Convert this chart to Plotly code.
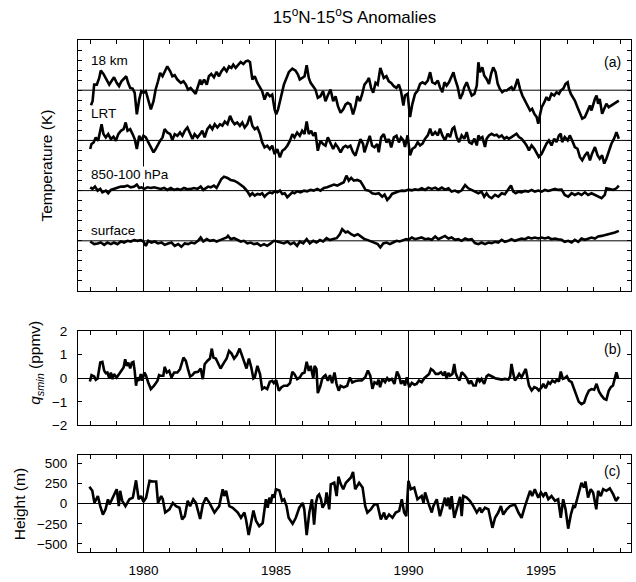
import plotly.graph_objects as go

# ---------------- data ----------------
# each series: (decimal year, anomaly)
t18km = [(1978.02,-1.49),(1978.08,-1.09),(1978.14,0.56),(1978.24,0.56),(1978.33,1.22),(1978.39,1.95),(1978.49,1.62),(1978.58,1.22),(1978.71,0.56),(1978.79,0.89),(1978.89,1.29),(1978.99,0.73),(1979.08,0.40),(1979.17,0.89),(1979.27,1.22),(1979.35,1.39),(1979.42,0.73),(1979.50,0.23),(1979.59,0.17),(1979.67,-0.26),(1979.75,-2.41),(1979.84,-0.93),(1979.92,-0.10),(1980.00,-0.26),(1980.09,-0.10),(1980.18,-1.09),(1980.28,-1.91),(1980.38,-1.09),(1980.46,0.07),(1980.55,0.89),(1980.63,1.72),(1980.72,1.39),(1980.80,1.88),(1980.90,2.38),(1981.01,1.88),(1981.09,1.39),(1981.18,1.49),(1981.28,1.06),(1981.41,0.73),(1981.51,0.89),(1981.60,0.56),(1981.68,0.07),(1981.78,0.23),(1981.88,-0.10),(1981.97,-0.36),(1982.06,0.40),(1982.14,1.06),(1982.19,0.56),(1982.29,1.06),(1982.39,0.56),(1982.47,1.39),(1982.56,1.62),(1982.66,1.29),(1982.76,1.82),(1982.85,1.39),(1982.94,1.88),(1983.04,2.22),(1983.14,1.88),(1983.23,2.38),(1983.32,2.22),(1983.39,2.55),(1983.48,2.22),(1983.57,2.48),(1983.67,2.81),(1983.77,2.61),(1983.86,2.88),(1983.94,2.94),(1984.02,2.81),(1984.11,1.06),(1984.20,1.39),(1984.30,0.73),(1984.40,0.23),(1984.48,-0.10),(1984.57,-0.93),(1984.67,-0.26),(1984.77,-0.60),(1984.86,-0.43),(1984.95,-1.91),(1985.01,-2.41),(1985.08,-1.91),(1985.15,-1.09),(1985.24,0.07),(1985.30,0.56),(1985.40,1.22),(1985.49,1.82),(1985.62,2.15),(1985.74,1.95),(1985.83,1.55),(1985.90,1.06),(1985.99,1.22),(1986.08,1.39),(1986.16,2.48),(1986.24,1.22),(1986.31,0.73),(1986.41,0.40),(1986.49,0.07),(1986.58,-0.76),(1986.68,-0.60),(1986.78,-0.10),(1986.87,-1.09),(1986.96,-0.50),(1987.06,0.07),(1987.16,-1.09),(1987.25,-0.60),(1987.34,-1.59),(1987.44,-2.25),(1987.54,-1.91),(1987.63,-1.42),(1987.71,-1.26),(1987.81,-1.42),(1987.91,-2.41),(1988.00,-1.59),(1988.07,-0.60),(1988.17,-1.09),(1988.25,-0.43),(1988.34,0.56),(1988.44,0.89),(1988.51,1.22),(1988.59,0.23),(1988.67,-0.26),(1988.76,0.73),(1988.84,0.56),(1988.94,2.22),(1989.01,1.55),(1989.07,1.22),(1989.17,1.39),(1989.26,0.89),(1989.35,0.73),(1989.45,0.40),(1989.55,0.23),(1989.64,0.56),(1989.72,-0.10),(1989.81,-1.52),(1989.87,-0.53),(1989.97,-0.36),(1990.06,-2.68),(1990.15,-1.36),(1990.25,-0.36),(1990.35,-0.03),(1990.44,0.63),(1990.53,0.79),(1990.63,0.63),(1990.73,0.96),(1990.82,1.79),(1990.90,0.79),(1991.01,0.63),(1991.11,0.96),(1991.19,0.30),(1991.28,-0.20),(1991.36,0.79),(1991.44,0.46),(1991.53,0.79),(1991.63,1.29),(1991.70,1.79),(1991.76,1.12),(1991.86,0.30),(1991.95,-0.86),(1992.04,-0.36),(1992.11,0.30),(1992.20,0.79),(1992.29,0.13),(1992.39,-0.53),(1992.49,-0.36),(1992.58,0.46),(1992.64,2.78),(1992.70,1.79),(1992.79,2.28),(1992.86,1.46),(1992.95,1.12),(1993.04,0.63),(1993.12,1.62),(1993.20,2.28),(1993.29,1.79),(1993.37,0.63),(1993.45,0.13),(1993.54,-0.20),(1993.62,-0.03),(1993.71,-0.03),(1993.79,0.13),(1993.89,0.30),(1993.96,-0.03),(1994.02,0.30),(1994.12,1.12),(1994.21,0.13),(1994.30,-0.53),(1994.40,-1.03),(1994.50,-1.69),(1994.59,-2.02),(1994.67,-1.85),(1994.75,-2.35),(1994.84,-2.68),(1994.90,-3.34),(1994.96,-2.51),(1995.03,-1.69),(1995.13,-1.19),(1995.21,-0.69),(1995.30,-1.03),(1995.40,-0.36),(1995.50,-0.53),(1995.59,-0.20),(1995.68,-0.36),(1995.75,-0.03),(1995.84,0.13),(1995.93,0.63),(1996.01,0.79),(1996.06,0.13),(1996.13,-0.36),(1996.22,-0.69),(1996.28,-1.03),(1996.38,-1.69),(1996.47,-2.35),(1996.56,-2.84),(1996.66,-2.68),(1996.76,-2.02),(1996.85,-1.52),(1996.91,-2.02),(1996.97,-1.36),(1997.04,-0.86),(1997.10,-0.53),(1997.16,-1.36),(1997.22,-0.86),(1997.31,-2.35),(1997.39,-1.85),(1997.47,-1.36),(1997.56,-1.69),(1997.66,-1.52),(1997.76,-1.36),(1997.85,-1.19),(1997.94,-1.03)]

lrt = [(1977.99,-0.86),(1978.04,-0.36),(1978.12,-0.20),(1978.20,0.30),(1978.29,-0.03),(1978.37,0.96),(1978.42,1.62),(1978.49,0.63),(1978.58,0.30),(1978.67,0.63),(1978.77,0.13),(1978.87,0.36),(1978.96,-0.03),(1979.05,0.63),(1979.15,0.96),(1979.25,1.12),(1979.33,1.79),(1979.40,0.96),(1979.50,1.12),(1979.59,0.63),(1979.67,0.13),(1979.75,-0.86),(1979.84,0.46),(1979.92,-0.03),(1980.00,0.46),(1980.09,0.30),(1980.18,-0.20),(1980.28,-0.69),(1980.38,-1.19),(1980.46,-0.86),(1980.55,-0.36),(1980.63,-0.03),(1980.72,0.30),(1980.80,1.12),(1980.90,0.79),(1981.01,0.63),(1981.09,0.03),(1981.18,0.63),(1981.28,0.46),(1981.38,0.79),(1981.47,0.46),(1981.56,0.96),(1981.66,1.29),(1981.76,0.63),(1981.85,0.13),(1981.93,0.63),(1982.04,0.30),(1982.14,0.63),(1982.22,0.96),(1982.31,0.30),(1982.41,1.12),(1982.51,1.46),(1982.60,1.12),(1982.69,1.62),(1982.79,1.29),(1982.89,1.62),(1982.98,1.46),(1983.07,1.88),(1983.17,1.62),(1983.27,2.45),(1983.35,1.95),(1983.44,1.62),(1983.54,1.79),(1983.64,1.46),(1983.73,1.79),(1983.82,1.29),(1983.92,1.62),(1984.02,2.45),(1984.11,1.46),(1984.20,1.12),(1984.30,1.29),(1984.40,0.63),(1984.48,-0.20),(1984.57,-0.69),(1984.67,-0.53),(1984.77,-0.86),(1984.86,-0.53),(1984.95,-1.36),(1985.05,-0.86),(1985.15,-1.69),(1985.24,-1.03),(1985.33,-0.86),(1985.43,-0.53),(1985.53,-0.03),(1985.62,0.63),(1985.70,0.30),(1985.80,0.79),(1985.90,0.46),(1985.99,0.96),(1986.08,0.63),(1986.16,1.88),(1986.24,0.63),(1986.33,0.96),(1986.41,0.46),(1986.49,0.79),(1986.58,-1.03),(1986.68,-0.03),(1986.78,-0.36),(1986.87,-0.53),(1986.96,0.30),(1987.06,-0.20),(1987.16,-0.86),(1987.25,-0.36),(1987.34,-0.69),(1987.44,-1.19),(1987.54,-0.69),(1987.63,-0.53),(1987.71,-0.69),(1987.81,-0.53),(1987.91,-1.19),(1988.00,-1.52),(1988.09,-0.69),(1988.19,0.13),(1988.29,-0.36),(1988.34,-1.19),(1988.44,-0.36),(1988.54,0.46),(1988.63,-0.53),(1988.72,-0.69),(1988.82,-0.36),(1988.88,-1.19),(1988.97,0.30),(1989.07,0.63),(1989.17,-0.20),(1989.26,0.13),(1989.35,-0.69),(1989.45,0.30),(1989.55,0.46),(1989.64,-0.20),(1989.72,0.30),(1989.81,0.0),(1989.87,-0.66),(1989.97,0.50),(1990.06,-1.49),(1990.15,-0.83),(1990.25,-0.66),(1990.35,-0.17),(1990.44,-0.50),(1990.53,-0.33),(1990.63,0.17),(1990.73,0.50),(1990.82,1.16),(1990.90,0.50),(1991.01,0.83),(1991.11,0.50),(1991.19,1.16),(1991.28,0.50),(1991.38,0.0),(1991.48,0.66),(1991.57,0.33),(1991.66,1.16),(1991.73,1.32),(1991.82,0.33),(1991.91,-0.17),(1992.01,0.50),(1992.11,0.17),(1992.20,0.83),(1992.29,-0.17),(1992.39,-0.33),(1992.49,0.17),(1992.58,-0.50),(1992.64,0.50),(1992.70,0.17),(1992.79,0.33),(1992.89,-0.66),(1992.95,0.17),(1993.04,0.50),(1993.14,0.66),(1993.24,0.50),(1993.33,0.56),(1993.42,0.33),(1993.52,0.50),(1993.62,0.17),(1993.71,0.33),(1993.79,0.17),(1993.89,0.33),(1993.99,0.50),(1994.08,0.66),(1994.17,0.33),(1994.27,0.17),(1994.37,-0.17),(1994.46,-0.50),(1994.55,-0.99),(1994.65,-0.50),(1994.75,-0.83),(1994.84,-1.32),(1994.92,-1.65),(1995.03,-1.32),(1995.13,-0.66),(1995.21,-0.33),(1995.30,0.0),(1995.40,-0.50),(1995.50,0.17),(1995.59,-0.17),(1995.68,0.50),(1995.75,0.66),(1995.80,-0.17),(1995.90,0.33),(1996.01,0.0),(1996.09,0.50),(1996.18,0.0),(1996.28,-0.66),(1996.38,-0.83),(1996.47,-1.65),(1996.56,-1.98),(1996.66,-1.49),(1996.76,-1.16),(1996.85,-1.98),(1996.93,-1.32),(1997.04,-0.66),(1997.14,-1.49),(1997.22,-1.82),(1997.31,-1.49),(1997.39,-2.31),(1997.47,-1.82),(1997.56,-1.16),(1997.66,-0.33),(1997.76,0.17),(1997.85,0.83),(1997.94,0.17)]

t850_100 = [(1977.99,0.33),(1978.08,0.17),(1978.17,0.40),(1978.27,0.0),(1978.37,0.17),(1978.45,-0.17),(1978.58,0.0),(1978.67,-0.26),(1978.77,0.07),(1978.89,0.17),(1979.02,0.26),(1979.15,0.40),(1979.27,0.40),(1979.40,0.50),(1979.52,0.33),(1979.65,0.40),(1979.75,0.60),(1979.84,0.26),(1979.92,0.33),(1980.03,0.17),(1980.15,0.33),(1980.28,0.26),(1980.40,0.33),(1980.53,0.26),(1980.65,0.17),(1980.78,0.26),(1980.90,0.07),(1981.03,0.26),(1981.16,0.07),(1981.28,0.17),(1981.41,0.07),(1981.53,0.26),(1981.66,0.13),(1981.78,0.17),(1981.91,0.26),(1982.04,0.17),(1982.16,0.40),(1982.26,0.07),(1982.35,0.26),(1982.44,0.40),(1982.54,0.33),(1982.66,0.50),(1982.76,0.26),(1982.85,0.66),(1982.94,1.16),(1983.04,1.39),(1983.17,1.26),(1983.29,1.06),(1983.42,0.99),(1983.54,0.83),(1983.67,0.60),(1983.79,0.33),(1983.92,-0.07),(1984.02,-0.50),(1984.11,-0.26),(1984.20,-0.50),(1984.30,-0.33),(1984.40,-0.40),(1984.48,-0.26),(1984.57,-0.60),(1984.67,-0.33),(1984.77,-0.17),(1984.86,-0.26),(1984.95,-0.07),(1985.05,-0.17),(1985.15,0.0),(1985.24,-0.33),(1985.33,-0.26),(1985.43,-0.66),(1985.53,-0.40),(1985.62,-0.17),(1985.70,-0.26),(1985.80,-0.07),(1985.93,-0.17),(1986.06,0.0),(1986.18,-0.07),(1986.31,0.07),(1986.43,0.0),(1986.56,0.17),(1986.68,0.0),(1986.81,0.26),(1986.93,0.33),(1987.06,0.50),(1987.19,0.60),(1987.31,0.50),(1987.44,0.66),(1987.56,0.83),(1987.66,1.49),(1987.75,0.99),(1987.84,1.26),(1987.94,0.99),(1988.07,1.06),(1988.19,0.93),(1988.29,0.50),(1988.38,0.07),(1988.51,0.0),(1988.63,-0.26),(1988.76,-0.33),(1988.88,-0.26),(1989.01,-0.60),(1989.10,-0.40),(1989.20,-0.93),(1989.30,-0.66),(1989.38,-0.33),(1989.51,-0.17),(1989.64,-0.07),(1989.76,0.0),(1989.87,-0.03),(1990.00,0.10),(1990.13,0.03),(1990.25,0.13),(1990.38,0.07),(1990.50,0.23),(1990.63,0.07),(1990.75,0.30),(1990.88,0.17),(1991.01,0.30),(1991.13,0.10),(1991.26,0.30),(1991.38,0.10),(1991.51,0.23),(1991.63,-0.10),(1991.76,0.0),(1991.88,-0.17),(1992.01,0.03),(1992.14,0.56),(1992.26,0.23),(1992.39,0.07),(1992.51,-0.10),(1992.64,-0.26),(1992.76,-0.10),(1992.86,-0.60),(1992.95,-0.26),(1993.04,-0.60),(1993.14,-0.76),(1993.27,-0.43),(1993.39,-0.60),(1993.52,-0.26),(1993.64,-0.36),(1993.77,0.07),(1993.87,0.50),(1993.96,-0.10),(1994.05,-0.26),(1994.15,-0.10),(1994.27,-0.17),(1994.40,-0.03),(1994.52,-0.10),(1994.65,0.07),(1994.77,-0.10),(1994.90,0.0),(1995.03,-0.10),(1995.15,0.07),(1995.28,-0.03),(1995.40,0.07),(1995.53,0.17),(1995.65,0.07),(1995.78,0.10),(1995.90,-0.43),(1996.03,-0.60),(1996.16,-0.26),(1996.28,-0.43),(1996.41,-0.26),(1996.53,-0.43),(1996.66,-0.17),(1996.78,-0.43),(1996.91,-0.26),(1997.04,-0.43),(1997.16,-0.60),(1997.29,-0.76),(1997.41,-0.43),(1997.47,0.23),(1997.60,0.17),(1997.73,0.07),(1997.85,0.23),(1997.94,0.50)]

surface = [(1977.99,-0.07),(1978.14,-0.33),(1978.27,-0.26),(1978.39,-0.17),(1978.52,-0.40),(1978.64,-0.17),(1978.77,-0.33),(1978.89,-0.17),(1979.02,-0.33),(1979.15,-0.07),(1979.27,-0.17),(1979.40,0.0),(1979.52,-0.07),(1979.65,0.07),(1979.77,0.0),(1979.90,0.07),(1980.00,-0.07),(1980.09,-0.50),(1980.18,0.0),(1980.30,-0.17),(1980.43,-0.07),(1980.55,-0.26),(1980.68,-0.17),(1980.80,-0.40),(1980.93,-0.26),(1981.06,-0.17),(1981.18,-0.50),(1981.31,-0.33),(1981.43,-0.60),(1981.56,-0.26),(1981.68,-0.33),(1981.81,-0.17),(1981.93,-0.26),(1982.06,0.0),(1982.16,0.33),(1982.26,-0.07),(1982.39,0.17),(1982.51,0.0),(1982.64,0.07),(1982.76,-0.07),(1982.89,0.07),(1983.02,0.17),(1983.14,0.33),(1983.19,0.50),(1983.29,0.17),(1983.42,0.26),(1983.54,0.07),(1983.67,-0.07),(1983.79,0.0),(1983.92,-0.26),(1984.05,-0.17),(1984.17,-0.33),(1984.30,-0.26),(1984.42,-0.50),(1984.55,-0.33),(1984.67,-0.50),(1984.80,-0.26),(1984.92,0.0),(1985.05,-0.07),(1985.18,-0.17),(1985.30,-0.26),(1985.43,-0.07),(1985.55,-0.33),(1985.68,-0.17),(1985.80,-0.50),(1985.90,-0.07),(1986.03,-0.26),(1986.16,0.17),(1986.28,-0.26),(1986.41,0.0),(1986.53,-0.17),(1986.66,0.07),(1986.78,-0.07),(1986.91,0.26),(1987.04,0.07),(1987.16,0.17),(1987.29,0.26),(1987.41,0.66),(1987.50,1.16),(1987.63,0.83),(1987.71,0.93),(1987.84,0.66),(1987.96,0.50),(1988.09,0.66),(1988.21,0.40),(1988.34,0.17),(1988.47,0.07),(1988.59,-0.07),(1988.72,-0.17),(1988.84,-0.33),(1988.94,-0.66),(1989.05,-0.26),(1989.17,-0.17),(1989.30,-0.33),(1989.42,-0.17),(1989.55,0.0),(1989.67,-0.07),(1989.80,0.07),(1989.92,0.17),(1990.00,0.10),(1990.13,0.33),(1990.25,0.16),(1990.38,0.23),(1990.50,0.33),(1990.63,0.16),(1990.75,0.23),(1990.88,0.10),(1991.01,0.43),(1991.13,0.16),(1991.26,0.33),(1991.38,0.49),(1991.51,0.23),(1991.63,0.33),(1991.76,0.10),(1991.88,0.16),(1992.01,0.0),(1992.14,0.23),(1992.26,0.10),(1992.39,0.16),(1992.51,-0.23),(1992.64,-0.33),(1992.76,-0.17),(1992.89,-0.33),(1993.02,-0.17),(1993.14,-0.23),(1993.27,-0.10),(1993.39,-0.17),(1993.52,0.10),(1993.64,-0.10),(1993.77,0.0),(1993.89,0.16),(1994.02,0.0),(1994.15,0.10),(1994.27,0.23),(1994.40,0.16),(1994.52,0.33),(1994.65,0.23),(1994.77,0.33),(1994.90,0.23),(1995.03,0.33),(1995.15,0.23),(1995.28,0.33),(1995.40,0.16),(1995.53,0.23),(1995.65,0.16),(1995.78,0.10),(1995.90,-0.10),(1996.03,0.0),(1996.16,-0.17),(1996.28,0.10),(1996.41,-0.10),(1996.53,0.23),(1996.66,0.10),(1996.78,0.23),(1996.91,0.33),(1997.04,0.23),(1997.16,0.43),(1997.29,0.49),(1997.41,0.56),(1997.54,0.66),(1997.66,0.76),(1997.79,0.83),(1997.94,0.99)]

qsmin = [(1977.98,-0.14),(1978.04,0.13),(1978.14,0.07),(1978.20,-0.07),(1978.27,-0.01),(1978.37,0.66),(1978.45,0.69),(1978.52,0.31),(1978.58,0.21),(1978.64,0.24),(1978.71,-0.01),(1978.77,0.24),(1978.83,-0.04),(1978.89,0.17),(1978.99,0.03),(1979.08,0.17),(1979.15,0.27),(1979.25,0.45),(1979.31,0.80),(1979.37,0.52),(1979.43,0.66),(1979.50,0.41),(1979.56,0.66),(1979.62,0.69),(1979.67,0.31),(1979.72,-0.32),(1979.77,0.03),(1979.84,-0.11),(1979.90,0.17),(1979.96,-0.11),(1980.03,0.24),(1980.09,0.13),(1980.18,-0.18),(1980.28,-0.46),(1980.40,-0.32),(1980.53,-0.11),(1980.59,0.13),(1980.65,0.10),(1980.75,0.10),(1980.80,0.48),(1980.88,0.24),(1980.97,0.31),(1981.06,0.03),(1981.16,0.24),(1981.28,0.24),(1981.38,0.38),(1981.51,0.87),(1981.60,0.73),(1981.68,0.38),(1981.76,0.07),(1981.85,0.13),(1981.93,0.24),(1982.06,0.27),(1982.16,0.41),(1982.24,-0.04),(1982.31,0.59),(1982.41,0.73),(1982.51,0.83),(1982.58,1.25),(1982.64,0.87),(1982.73,0.83),(1982.81,0.66),(1982.91,0.41),(1983.04,0.66),(1983.14,0.83),(1983.23,1.15),(1983.32,1.05),(1983.42,0.83),(1983.52,0.97),(1983.63,1.25),(1983.69,1.08),(1983.79,0.73),(1983.89,0.41),(1983.98,0.83),(1984.07,0.45),(1984.15,-0.01),(1984.20,0.03),(1984.30,0.52),(1984.40,0.17),(1984.48,-0.46),(1984.57,-0.39),(1984.67,-0.46),(1984.77,-0.15),(1984.86,-0.11),(1984.92,-0.21),(1985.01,-0.08),(1985.11,-0.53),(1985.20,-0.39),(1985.30,-0.32),(1985.43,-0.32),(1985.53,-0.21),(1985.62,0.27),(1985.70,0.17),(1985.80,-0.04),(1985.90,0.03),(1985.99,0.20),(1986.08,0.24),(1986.16,0.69),(1986.24,0.31),(1986.31,0.52),(1986.41,-0.01),(1986.46,0.52),(1986.53,0.38),(1986.58,-0.63),(1986.68,-0.32),(1986.75,-0.01),(1986.81,0.07),(1986.87,0.13),(1986.96,-0.11),(1987.04,0.13),(1987.12,-0.21),(1987.21,0.24),(1987.29,-0.25),(1987.37,-0.53),(1987.44,-0.32),(1987.56,-0.39),(1987.69,-0.32),(1987.79,0.03),(1987.88,-0.18),(1988.00,-0.12),(1988.12,-0.10),(1988.24,-0.10),(1988.37,0.04),(1988.47,0.32),(1988.56,0.11),(1988.64,-0.45),(1988.72,-0.17),(1988.81,-0.24),(1988.87,-0.06),(1988.93,-0.38),(1989.02,-0.03),(1989.12,-0.17),(1989.20,0.0),(1989.27,-0.10),(1989.37,-0.03),(1989.47,-0.24),(1989.57,0.28),(1989.65,0.08),(1989.72,-0.24),(1989.81,-0.10),(1989.87,-0.31),(1989.94,0.04),(1990.03,-0.38),(1990.13,-0.20),(1990.23,-0.28),(1990.31,-0.24),(1990.40,-0.10),(1990.50,-0.17),(1990.60,0.0),(1990.69,0.11),(1990.78,0.18),(1990.85,0.39),(1990.94,0.32),(1991.03,0.18),(1991.13,0.18),(1991.23,0.25),(1991.32,0.11),(1991.38,0.28),(1991.44,-0.03),(1991.51,0.22),(1991.57,0.11),(1991.66,0.18),(1991.73,0.60),(1991.78,0.22),(1991.86,0.0),(1991.93,-0.10),(1992.01,0.25),(1992.11,0.14),(1992.20,0.0),(1992.29,-0.24),(1992.36,-0.10),(1992.45,-0.31),(1992.54,-0.31),(1992.61,0.0),(1992.69,-0.14),(1992.76,-0.03),(1992.86,-0.24),(1992.95,0.08),(1993.02,0.14),(1993.14,0.08),(1993.27,0.0),(1993.39,-0.03),(1993.52,-0.06),(1993.64,-0.03),(1993.77,-0.06),(1993.84,0.08),(1993.89,0.60),(1993.96,0.18),(1994.02,-0.10),(1994.11,0.04),(1994.18,0.18),(1994.27,0.04),(1994.36,0.25),(1994.43,0.39),(1994.50,-0.03),(1994.55,-0.31),(1994.65,-0.52),(1994.75,-0.38),(1994.84,-0.42),(1994.92,-0.52),(1995.03,-0.38),(1995.09,-0.24),(1995.18,-0.42),(1995.28,-0.17),(1995.35,-0.24),(1995.43,-0.10),(1995.53,-0.17),(1995.60,-0.06),(1995.68,-0.14),(1995.75,0.28),(1995.83,-0.03),(1995.90,0.0),(1995.98,0.08),(1996.06,-0.10),(1996.16,-0.17),(1996.26,-0.45),(1996.34,-0.67),(1996.43,-1.0),(1996.53,-1.1),(1996.63,-1.03),(1996.72,-0.74),(1996.81,-0.53),(1996.91,-0.46),(1997.01,-0.49),(1997.10,-0.24),(1997.19,-0.56),(1997.29,-0.74),(1997.39,-0.88),(1997.47,-0.91),(1997.56,-0.53),(1997.64,-0.38),(1997.72,-0.31),(1997.79,0.0),(1997.85,0.25),(1997.91,0.0)]

height = [(1977.96,210),(1978.07,160),(1978.15,10),(1978.28,95),(1978.37,-30),(1978.47,-135),(1978.57,-70),(1978.66,55),(1978.72,-10),(1978.84,75),(1978.91,125),(1978.99,180),(1979.07,-30),(1979.12,160),(1979.20,35),(1979.32,-30),(1979.47,55),(1979.60,75),(1979.72,290),(1979.82,55),(1979.91,95),(1980.00,25),(1980.10,75),(1980.23,285),(1980.35,275),(1980.48,275),(1980.55,10),(1980.67,95),(1980.73,55),(1980.82,-110),(1980.98,-70),(1981.11,10),(1981.23,-30),(1981.36,-50),(1981.46,-195),(1981.56,-155),(1981.67,35),(1981.76,-30),(1981.88,55),(1981.98,10),(1982.14,-190),(1982.24,-10),(1982.36,75),(1982.49,10),(1982.68,-110),(1982.86,-30),(1982.99,180),(1983.05,95),(1983.12,160),(1983.24,-30),(1983.37,-50),(1983.56,-110),(1983.68,-175),(1983.81,-110),(1983.87,-195),(1983.97,-390),(1984.06,-240),(1984.15,-85),(1984.25,-215),(1984.37,-280),(1984.50,-240),(1984.56,-70),(1984.62,55),(1984.69,-50),(1984.75,75),(1984.81,10),(1984.87,115),(1984.94,75),(1985.00,180),(1985.13,165),(1985.23,35),(1985.31,55),(1985.40,-30),(1985.48,-175),(1985.63,-250),(1985.75,-175),(1985.88,-50),(1986.01,10),(1986.07,-70),(1986.16,-390),(1986.26,-110),(1986.36,55),(1986.44,-260),(1986.51,10),(1986.57,95),(1986.63,115),(1986.70,55),(1986.76,-50),(1986.86,10),(1986.91,140),(1987.01,-70),(1987.07,240),(1987.20,260),(1987.29,95),(1987.36,335),(1987.45,240),(1987.54,180),(1987.64,260),(1987.76,305),(1987.83,325),(1987.91,395),(1987.99,180),(1988.14,260),(1988.27,200),(1988.37,-30),(1988.45,-110),(1988.58,-70),(1988.71,-10),(1988.83,-10),(1988.96,-195),(1989.08,-110),(1989.15,-195),(1989.27,-135),(1989.40,-175),(1989.52,-110),(1989.65,-90),(1989.75,55),(1989.84,-110),(1989.92,-155),(1990.00,285),(1990.09,180),(1990.22,200),(1990.34,55),(1990.50,95),(1990.57,10),(1990.63,140),(1990.75,10),(1990.88,-110),(1990.94,-30),(1991.07,55),(1991.19,-155),(1991.32,-10),(1991.38,75),(1991.44,-30),(1991.51,75),(1991.57,-70),(1991.63,95),(1991.73,-175),(1991.82,-70),(1991.88,-30),(1991.95,85),(1992.01,-155),(1992.07,95),(1992.20,75),(1992.32,35),(1992.45,-30),(1992.58,-110),(1992.70,-50),(1992.76,-110),(1992.89,-50),(1993.02,-70),(1993.17,-300),(1993.27,-175),(1993.39,-110),(1993.49,-30),(1993.58,-135),(1993.71,-70),(1993.83,-30),(1994.02,-10),(1994.15,-110),(1994.27,-175),(1994.40,-30),(1994.52,75),(1994.59,160),(1994.67,95),(1994.77,180),(1994.90,75),(1995.00,140),(1995.09,95),(1995.18,140),(1995.28,55),(1995.40,95),(1995.53,35),(1995.65,55),(1995.75,-175),(1995.84,55),(1995.93,-70),(1996.03,-310),(1996.13,-135),(1996.22,-30),(1996.28,-50),(1996.41,115),(1996.53,260),(1996.63,200),(1996.68,275),(1996.78,75),(1996.88,180),(1996.97,140),(1997.09,-70),(1997.16,160),(1997.26,95),(1997.35,180),(1997.47,160),(1997.60,190),(1997.73,115),(1997.83,35),(1997.94,85)]

temp_labels = ["18 km", "LRT", "850-100 hPa", "surface"]
temp_offsets = [15, 10, 5, 0]          # K, vertical stacking of panel (a)
x_tick_labels = ["1980", "1985", "1990", "1995"]
q_ticks = [-2, -1, 0, 1, 2]
h_ticks = [-500, -250, 0, 250, 500]

# ---------------- layout geometry ----------------
FONT = "Liberation Sans, Arial, Helvetica, sans-serif"
W, H = 636, 582
ML, MR, MT, MB = 78, 4, 40, 28
PW, PH = W - ML - MR, H - MT - MB


def fx(px):
    return (px - ML) / PW


def fy(py):
    return (H - MB - py) / PH


XR = [1977.53, 1998.4]
LINE = dict(color="black", width=2.6)

fig = go.Figure()
for series, off in zip([t18km, lrt, t850_100, surface], temp_offsets):
    xs = [p[0] for p in series]
    ys = [p[1] + off for p in series]
    fig.add_trace(go.Scatter(x=xs, y=ys, mode="lines", line=LINE,
                             xaxis="x", yaxis="y", hoverinfo="skip"))
fig.add_trace(go.Scatter(x=[p[0] for p in qsmin], y=[p[1] for p in qsmin],
                         mode="lines", line=LINE, xaxis="x2", yaxis="y2",
                         hoverinfo="skip"))
fig.add_trace(go.Scatter(x=[p[0] for p in height], y=[p[1] for p in height],
                         mode="lines", line=LINE, xaxis="x3", yaxis="y3",
                         hoverinfo="skip"))


def xaxis(anchor, labels):
    return dict(
        range=XR, anchor=anchor, domain=[0, 1],
        showline=True, linecolor="black", linewidth=1, mirror="allticks",
        ticks="inside", ticklen=4, tickcolor="black", tickwidth=1,
        tickmode="array", tickvals=[int(s) for s in x_tick_labels],
        ticktext=x_tick_labels,
        showticklabels=labels, tickfont=dict(size=13.5, color="black"),
        ticklabelstandoff=6,
        showgrid=True, gridcolor="black", gridwidth=1, zeroline=False,
        minor=dict(dtick=1, tick0=1978, ticks="inside", ticklen=4,
                   tickcolor="black", showgrid=False),
    )


def yaxis(anchor, dom, rng, **kw):
    d = dict(
        anchor=anchor, domain=dom, range=rng,
        showline=True, linecolor="black", linewidth=1, mirror="allticks",
        ticks="inside", ticklen=4, tickcolor="black", tickwidth=1,
        showgrid=False, tickfont=dict(size=13.5, color="black"),
        ticklabelstandoff=7,
    )
    d.update(kw)
    return d


fig.update_layout(
    width=W, height=H, margin=dict(l=ML, r=MR, t=MT, b=MB),
    paper_bgcolor="white", plot_bgcolor="white", showlegend=False,
    font=dict(family=FONT, color="black"),
    title=dict(text="15<sup>o</sup>N-15<sup>o</sup>S Anomalies",
               x=0.5, xref="paper", xanchor="center",
               y=1 - 17 / H, yref="container", yanchor="middle",
               font=dict(size=17, color="black", family=FONT)),
    xaxis=xaxis("y", False),
    xaxis2=xaxis("y2", False),
    xaxis3=xaxis("y3", True),
    yaxis=yaxis("x", [fy(292), fy(40)], [-5, 20], dtick=1, tick0=0,
                showticklabels=False, zeroline=False),
    yaxis2=yaxis("x2", [fy(427), fy(332)], [-2, 2], tickmode="array",
                 tickvals=q_ticks, zeroline=True, zerolinecolor="black",
                 zerolinewidth=1),
    yaxis3=yaxis("x3", [fy(554), fy(457)], [-600, 600], tickmode="array",
                 tickvals=h_ticks, zeroline=True, zerolinecolor="black",
                 zerolinewidth=1),
)

# zero lines of the stacked temperature series
for off in temp_offsets:
    fig.add_shape(type="line", xref="x domain", x0=0, x1=1, yref="y",
                  y0=off, y1=off, line=dict(color="black", width=1),
                  layer="below")

ann = []
# series labels in panel (a)
for lab, py in zip(temp_labels, [61, 114, 175, 231]):
    ann.append(dict(text=lab, xref="paper", yref="paper", x=fx(90), y=fy(py),
                    xanchor="left", yanchor="middle", showarrow=False,
                    font=dict(size=13.5), bgcolor="white" if "hPa" in lab else None,
                    borderpad=0))
# panel letters
for lab, py in zip(["(a)", "(b)", "(c)"], [62, 350, 473]):
    ann.append(dict(text=lab, xref="paper", yref="paper", x=fx(613), y=fy(py),
                    xanchor="center", yanchor="middle", showarrow=False,
                    font=dict(size=14)))
# axis titles
for lab, px, py in [("Temperature (K)", 46, 166),
                    ("<i>q</i><sub><i>smin</i></sub> (ppmv)", 36, 364),
                    ("Height (m)", 19, 506)]:
    ann.append(dict(text=lab, xref="paper", yref="paper", x=fx(px), y=fy(py),
                    xanchor="center", yanchor="middle", textangle=-90,
                    showarrow=False, font=dict(size=15.5)))
fig.update_layout(annotations=ann)

fig.write_html("out.html")
